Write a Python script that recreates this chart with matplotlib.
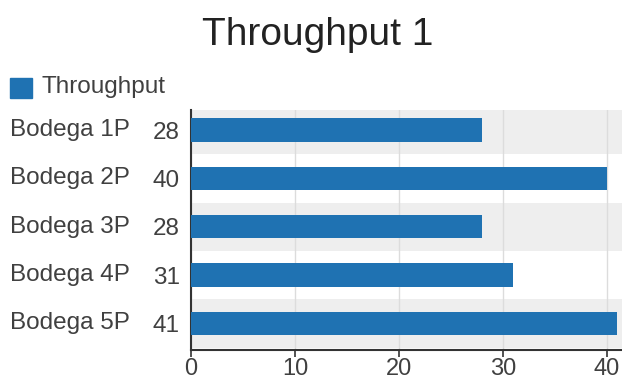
import matplotlib
matplotlib.use("Agg")
import matplotlib.pyplot as plt
import matplotlib.transforms as mtransforms
from matplotlib.patches import Rectangle

categories = ["Bodega 1P", "Bodega 2P", "Bodega 3P", "Bodega 4P", "Bodega 5P"]
values = [28, 40, 28, 31, 41]
xticks = [0, 10, 20, 30, 40]
title = "Throughput 1"
series_name = "Throughput"

bar_color = "#1f72b2"
text_color = "#404040"
plt.rcParams['font.family'] = ['Liberation Sans', 'DejaVu Sans']

W, H = 622, 382
fig = plt.figure(figsize=(W / 100, H / 100), dpi=100)
ax = fig.add_axes([191 / W, 32 / H, (W - 191) / W, 240 / H])

n = len(categories)
ys = list(range(n))
# alternating row bands
for i in ys:
    if i % 2 == 0:
        ax.axhspan(i - 0.5, i + 0.5, color="#eeeeee", zorder=0, lw=0)

ax.barh(ys, values, height=0.485, color=bar_color, zorder=3)
ax.set_ylim(n - 0.45, -0.414)
ax.set_xlim(0, 41.45)
ax.set_xticks(xticks)
ax.set_xticklabels([str(t) for t in xticks], fontsize=17, color=text_color)
ax.xaxis.grid(True, color="#dcdcdc", lw=1, zorder=1)
ax.set_axisbelow(True)

ax.set_yticks(ys)
ax.set_yticklabels([str(v) for v in values], fontsize=17.5, color=text_color)
ax.tick_params(axis="y", length=0, pad=8)
ax.tick_params(axis="x", length=5, width=1.2, color="#333333", pad=1)

for s in ["top", "right"]:
    ax.spines[s].set_visible(False)
for s in ["left", "bottom"]:
    ax.spines[s].set_color("#333333")
    ax.spines[s].set_linewidth(1.5)

trans = mtransforms.blended_transform_factory(fig.transFigure, ax.transData)
for y, c in zip(ys, categories):
    ax.text(10 / W, y, c, transform=trans, ha="left", va="center",
            fontsize=17.5, color=text_color)

fig.text(318 / W, 1 - 35 / H, title, ha="center", va="center", fontsize=28,
         color="#222222")

# legend
fig.patches.append(Rectangle((10 / W, 1 - 98 / H), 22 / W, 20 / H,
                             transform=fig.transFigure, color=bar_color))
fig.text(42 / W, 1 - 87 / H, series_name, ha="left", va="center",
         fontsize=17.5, color=text_color)

fig.savefig("out.png", dpi=100)
